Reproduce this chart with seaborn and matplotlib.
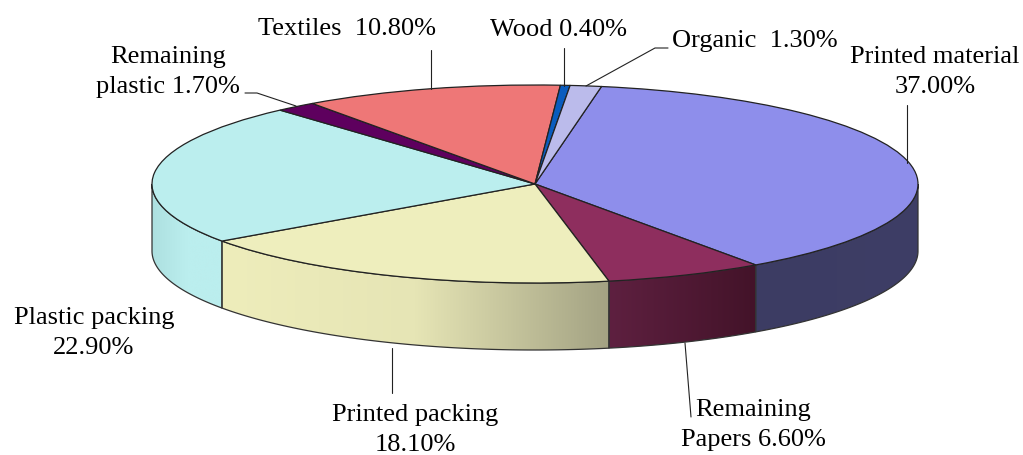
import numpy as np
import seaborn as sns
import matplotlib.pyplot as plt
from matplotlib.patches import Polygon

categories = ["Printed material", "Remaining Papers", "Printed packing", "Plastic packing",
              "Remaining plastic", "Textiles", "Wood", "Organic"]
values = [37.0, 6.6, 18.1, 22.9, 1.7, 10.8, 0.4, 1.3]
top_colors = ["#8E8EEB", "#8E2E5E", "#EEEEBD", "#BBEEEE", "#5E005E", "#EE7777", "#0A5CBE", "#BBBBEB"]
side_colors = [["#3C3C63", "#3E3E66"], ["#5E2040", "#431329"], ["#EEEDBB", "#E6E5B5", "#A3A283"],
               ["#ADE0E0", "#BBEEEE", "#BBEEEE"]]

# label text, x, y in pixels of the 1023x455 image
labels = [("Textiles  10.80%", 347, 29), ("Wood 0.40%", 558, 30), ("Organic  1.30%", 755, 41),
          ("Printed material\n37.00%", 935, 72), ("Remaining\nplastic 1.70%", 168, 72),
          ("Plastic packing\n22.90%", 94, 333), ("Printed packing\n18.10%", 415, 430),
          ("Remaining\nPapers 6.60%", 753, 425)]
leaders = [[(564, 48), (564, 86)], [(586, 86), (655, 48), (668, 48)], [(245, 93), (257, 93), (296, 106)],
           [(431, 50), (431, 89)], [(907, 105), (907, 163)], [(685, 343), (691, 417)], [(392, 348), (392, 393)]]

CX, CY, RX, RY, DEPTH = 535, 184, 383, 99, 67
W, H = 1023, 455


def px(x, y):
    return (x - CX) / RX, (CY - y) / RY


sns.set_theme(style="white")
plt.rcParams['font.family'] = ['Liberation Serif', 'DejaVu Serif']

fig = plt.figure(figsize=(W / 100, H / 100), dpi=100)
ax = fig.add_axes([0, 0, 1, 1])
wedges, _ = ax.pie(values, colors=sns.color_palette(top_colors), startangle=80, counterclock=False,
                   wedgeprops=dict(edgecolor="#222222", linewidth=0.9, zorder=3))
ax.set_aspect('auto')
xlim = (px(0, 0)[0], px(W, 0)[0])
ylim = (px(0, H)[1], px(0, 0)[1])
d = DEPTH / RY

# side wall of the disc, only the part that faces the viewer
for w, cols in zip(wedges, side_colors):
    lo, hi = max(w.theta1, -180), min(w.theta2, 0)
    t = np.radians(np.linspace(lo, hi, 120))
    xs, ys = np.cos(t), np.sin(t)
    poly = np.vstack([np.c_[xs, ys], np.c_[xs[::-1], ys[::-1] - d]])
    outline = Polygon(poly, closed=True, facecolor="none", edgecolor="#333333", linewidth=0.9, zorder=2)
    ax.add_patch(outline)
    grad = np.linspace(0, 1, 256).reshape(1, -1)
    cmap = sns.blend_palette(cols, as_cmap=True)
    im = ax.imshow(grad, cmap=cmap, aspect='auto', zorder=1,
                   extent=(xs.min(), xs.max(), poly[:, 1].min(), poly[:, 1].max()))
    im.set_clip_path(outline)

ax.set_xlim(xlim)
ax.set_ylim(ylim)
ax.set_aspect('auto')

for pts in leaders:
    p = np.array([px(*q) for q in pts])
    ax.plot(p[:, 0], p[:, 1], color="#222222", lw=0.8, zorder=4)

for txt, x, y in labels:
    ax.text(*px(x, y), txt, ha="center", va="center", fontsize=19, color="black",
            linespacing=1.45, zorder=5)

sns.despine(ax=ax, left=True, bottom=True)
fig.savefig("out.png", dpi=100)
